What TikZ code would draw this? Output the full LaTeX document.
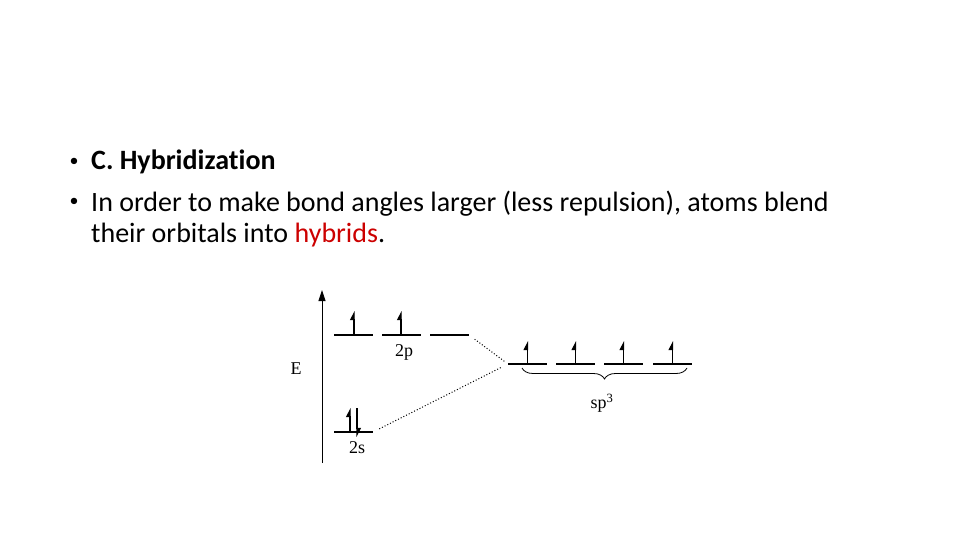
\documentclass[tikz,border=0pt]{standalone}
\usepackage{fontspec}
\setmainfont{Carlito}[Ligatures=NoCommon]
\newfontfamily\diagfont{Liberation Serif}
\usetikzlibrary{arrows.meta,decorations.pathreplacing}
\definecolor{hybred}{RGB}{204,0,0}

\begin{document}
\begin{tikzpicture}[x=1pt,y=-1pt,
	line/.style={anchor=base west,inner sep=0pt,font=\fontsize{28}{32}\selectfont},
	dot/.style={anchor=center,inner sep=0pt,font=\fontsize{18}{20}\selectfont},
	level/.style={line width=1.1pt},
	spin/.style={line width=1.1pt,-{Triangle[left,length=8pt,width=8pt]}},
	lbl/.style={font=\diagfont\fontsize{18}{20}\selectfont}]
\useasboundingbox (0,0) rectangle (960,540);
% slide text
\node[dot] (bul1) at (74,162) {\textbullet};
\node[line] (head) at (91,170) {\bfseries C. Hybridization};
\node[dot] (bul2) at (74,202) {\textbullet};
\node[line] (txt1) at (91,211) {In order to make bond angles larger (less repulsion), atoms blend};
\node[line] (txt2) at (91,242) {their orbitals into \textcolor{hybred}{hybrids}.};
% energy axis
\coordinate (ax0) at (322,463);
\coordinate (ax1) at (322,290);
\draw[line width=0.9pt,-{Triangle[length=11pt,width=7pt]}] (ax0) -- (ax1);
\node[lbl] (E) at (296,369) {E};
% 2p and 2s levels
\foreach \n/\xa/\ya in {p1/334/335, p2/382/335, p3/430/335, s/334/432}{
	\coordinate (\n w) at (\xa,\ya);
	\coordinate (\n e) at (\xa+39,\ya);
	\draw[level] (\n w) -- (\n e);
}
\draw[spin] (354,335) -- ++(0,-24);
\draw[spin] (401,335) -- ++(0,-24);
\draw[spin] (350,432) -- ++(0,-24);
\draw[spin] (357,408) -- ++(0,29);
\node[lbl] (lp) at (404,352) {2p};
\node[lbl] (ls) at (357,448) {2s};
% sp3 levels
\foreach \n/\xa in {h1/508, h2/556, h3/604, h4/653}{
	\coordinate (\n w) at (\xa,364);
	\coordinate (\n e) at (\xa+39,364);
	\draw[level] (\n w) -- (\n e);
	\draw[spin] (\xa+19.5,364) -- ++(0,-23);
}
\draw[decorate,decoration={brace,mirror,amplitude=11pt},line width=0.8pt] (522,368) -- (687,368);
\node[lbl] (lsp) at (602,403) {sp\textsuperscript{3}};
% correlation lines
\draw[dotted,line width=1pt,shorten <=7pt,shorten >=3pt] (p3e) -- (h1w);
\draw[dotted,line width=1pt,shorten <=7pt,shorten >=8pt] (se) -- (h1w);
\end{tikzpicture}
\end{document}
